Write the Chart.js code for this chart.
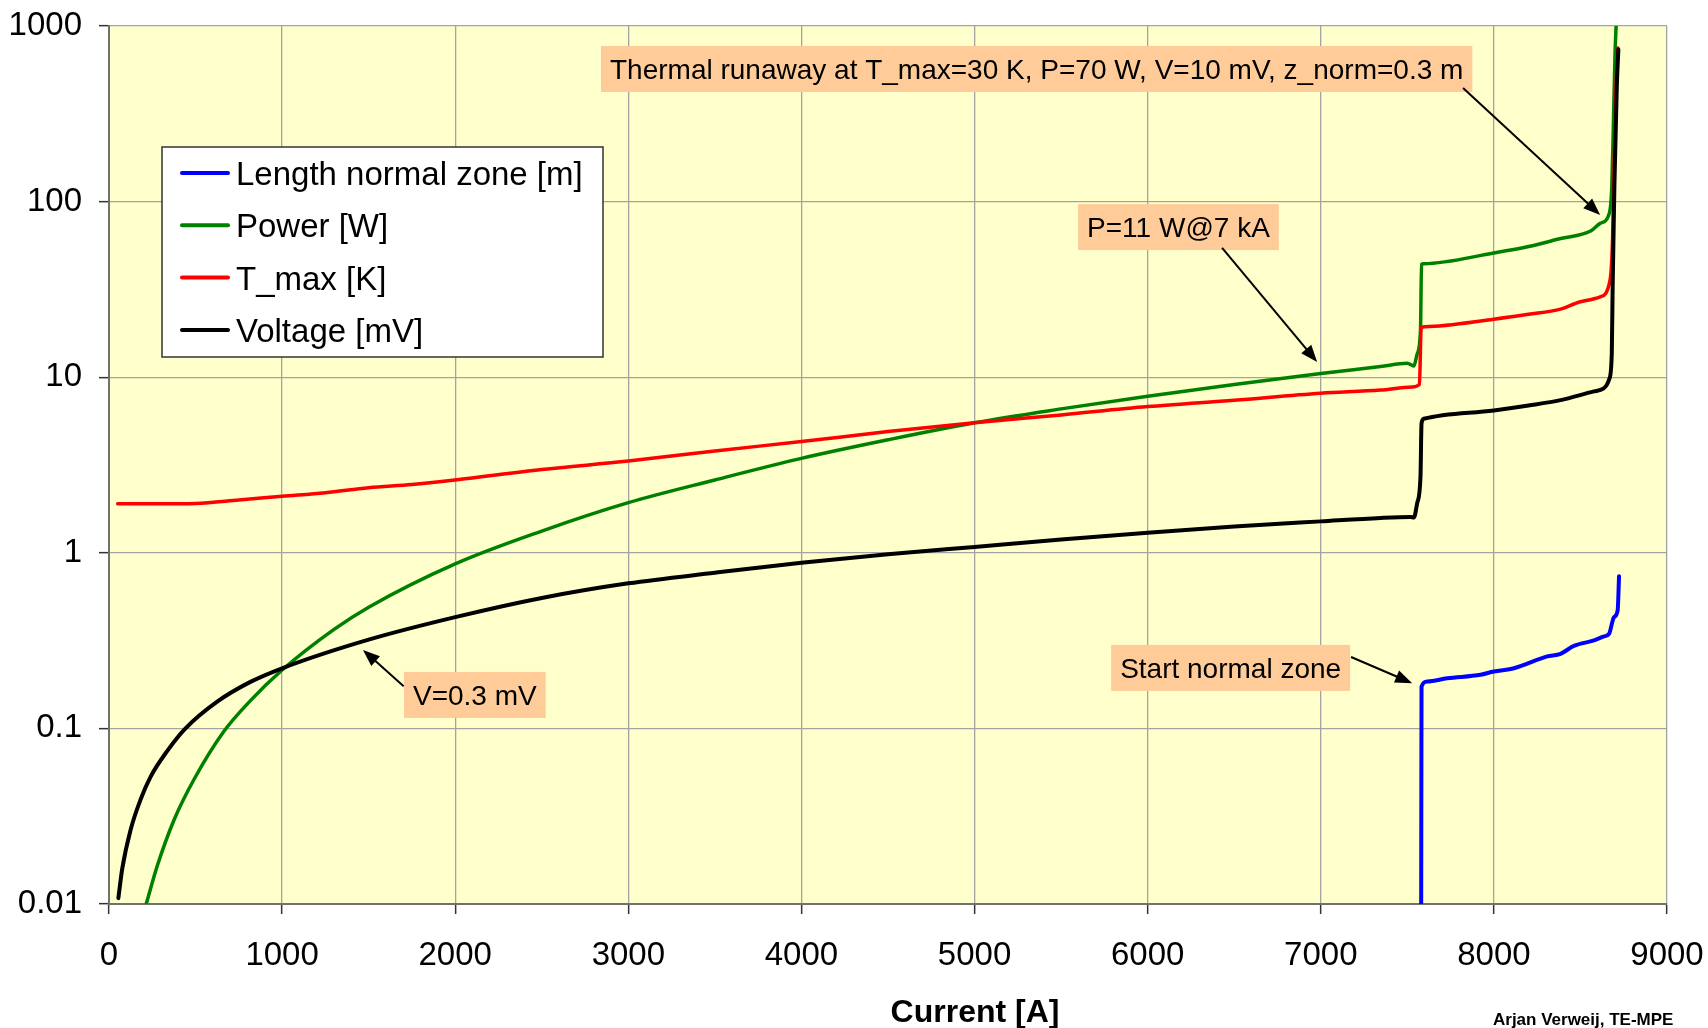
<!DOCTYPE html>
<html lang="en">
<head>
  <meta charset="UTF-8">
  <title>Quench scan</title>
  <script src="https://cdn.jsdelivr.net/npm/chart.js@4.4.1/dist/chart.umd.min.js"></script>
  <style>
    html, body { margin: 0; padding: 0; background: #fff; }
  </style>
</head>
<body>
  <canvas id="chart" width="1708" height="1028"></canvas>

  <script>
    // values (current in A)
    const lengthI = [7580, 7582, 7615, 7730, 7923, 8000, 8116, 8308, 8385, 8462, 8578, 8636, 8665, 8694, 8715, 8723]
    const lengthM = [0.01, 0.173, 0.185, 0.193, 0.202, 0.211, 0.22, 0.257, 0.266, 0.295, 0.317, 0.334, 0.345, 0.43, 0.47, 0.736]

    const powerI = [215, 279, 375, 490, 663, 817, 1000, 1298, 1500, 2000, 2500, 3000, 3500, 4000, 4500, 5000, 5500, 6000, 6500, 7000, 7345, 7499, 7538, 7557, 7576, 7582, 7595, 8000, 8200, 8385, 8559, 8614, 8667, 8681, 8691, 8700, 8706]
    const powerW = [0.01, 0.0165, 0.030, 0.051, 0.096, 0.144, 0.215, 0.365, 0.49, 0.865, 1.33, 1.93, 2.6, 3.45, 4.4, 5.5, 6.6, 7.8, 9.1, 10.5, 11.5, 12.0, 11.6, 13.6, 18.4, 43.9, 44.3, 51, 55.5, 61.6, 68, 75.2, 85.8, 121, 293, 705, 1000]

    const tmaxI = [50, 300, 500, 750, 1000, 1250, 1500, 1750, 2000, 2500, 3000, 3500, 4000, 4500, 5000, 5500, 6000, 6500, 7000, 7345, 7528, 7570, 7580, 7600, 8000, 8200, 8385, 8500, 8614, 8671, 8686, 8694, 8706, 8716]
    const tmaxK = [1.90, 1.90, 1.91, 2.0, 2.1, 2.2, 2.35, 2.45, 2.6, 2.98, 3.33, 3.8, 4.3, 4.9, 5.5, 6.1, 6.8, 7.4, 8.1, 8.45, 8.8, 9.1, 19.2, 19.4, 21.4, 22.8, 24.4, 26.9, 28.7, 35.7, 63, 151, 454, 750]

    const voltI = [54, 77, 125, 183, 240, 337, 442, 625, 817, 1000, 1500, 2000, 2500, 3000, 3500, 4000, 4500, 5000, 5500, 6000, 6500, 7000, 7345, 7518, 7538, 7557, 7576, 7582, 7595, 8000, 8200, 8385, 8578, 8632, 8667, 8681, 8686, 8696, 8710, 8719]
    const voltMV = [0.0108, 0.0160, 0.0265, 0.0395, 0.053, 0.0745, 0.1, 0.142, 0.184, 0.22, 0.32, 0.43, 0.553, 0.67, 0.77, 0.877, 0.98, 1.08, 1.19, 1.30, 1.41, 1.51, 1.58, 1.6, 1.59, 1.92, 2.72, 5.45, 5.8, 6.47, 6.9, 7.4, 8.3, 8.6, 9.8, 13.6, 32.7, 122, 454, 736]

    const yTicks = [0.01, 0.1, 1, 10, 100, 1000]
    const yTickLabels = ['0.01', '0.1', '1', '10', '100', '1000']

    // text boxes: left edge / middle of box and arrow, in data units
    const notes = [
      { text: 'Thermal runaway at T_max=30 K, P=70 W, V=10 mV, z_norm=0.3 m', at: [2842, 569], from: [7822, 443], to: [8614, 84] },
      { text: 'P=11 W@7 kA', at: [5598, 71.6], from: [6430, 54.5], to: [6979, 12.2] },
      { text: 'V=0.3 mV', at: [1704, 0.155], from: [1702, 0.174], to: [1467, 0.28] },
      { text: 'Start normal zone', at: [5789, 0.221], from: [7175, 0.255], to: [7528, 0.181] }
    ]

    const FONT = '"Liberation Sans", Arial, sans-serif'
    const pts = (xs, ys) => xs.map((x, i) => ({ x: x, y: ys[i] }))

    function arrow(ctx, x1, y1, x2, y2) {
      const ang = Math.atan2(y2 - y1, x2 - x1)
      const c = Math.cos(ang), s = Math.sin(ang)
      const len = 17, half = 6.5
      ctx.beginPath()
      ctx.moveTo(x1, y1)
      ctx.lineTo(x2 - len * 0.7 * c, y2 - len * 0.7 * s)
      ctx.stroke()
      ctx.beginPath()
      ctx.moveTo(x2, y2)
      ctx.lineTo(x2 - len * c + half * s, y2 - len * s - half * c)
      ctx.lineTo(x2 - len * c - half * s, y2 - len * s + half * c)
      ctx.closePath()
      ctx.fill()
    }

    const decor = {
      id: 'decor',
      beforeDraw(chart) {
        const { ctx, chartArea: a } = chart
        ctx.save()
        ctx.fillStyle = '#ffffcc'
        ctx.fillRect(a.left, a.top, a.right - a.left, a.bottom - a.top)
        ctx.restore()
      },
      afterDatasetsDraw(chart) {
        const { ctx, chartArea: a } = chart
        const xs = chart.scales.x, ys = chart.scales.y
        ctx.save()

        // legend box
        const lx = a.left + 53, ly = a.top + 121
        ctx.fillStyle = '#ffffff'
        ctx.fillRect(lx, ly, 441, 210)
        ctx.strokeStyle = '#333'
        ctx.lineWidth = 1.5
        ctx.strokeRect(lx, ly, 441, 210)
        ctx.font = '33px ' + FONT
        ctx.textBaseline = 'alphabetic'
        chart.data.datasets.forEach((ds, i) => {
          const y = ly + 26 + i * 52.3
          ctx.strokeStyle = ds.borderColor
          ctx.lineWidth = 4
          ctx.lineCap = 'round'
          ctx.beginPath()
          ctx.moveTo(lx + 20, y)
          ctx.lineTo(lx + 66, y)
          ctx.stroke()
          ctx.fillStyle = '#000'
          ctx.fillText(ds.label, lx + 74, y + 12)
        })

        // notes with arrows
        ctx.font = '28px ' + FONT
        ctx.lineCap = 'butt'
        for (const n of notes) {
          const bx = xs.getPixelForValue(n.at[0])
          const by = ys.getPixelForValue(n.at[1])
          const w = ctx.measureText(n.text).width + 18
          ctx.fillStyle = '#ffcc99'
          ctx.fillRect(bx, by - 23, w, 46)
          ctx.fillStyle = '#000'
          ctx.fillText(n.text, bx + 9, by + 10)
        }
        ctx.strokeStyle = '#000'
        ctx.fillStyle = '#000'
        ctx.lineWidth = 2
        for (const n of notes) {
          arrow(ctx,
            xs.getPixelForValue(n.from[0]), ys.getPixelForValue(n.from[1]),
            xs.getPixelForValue(n.to[0]), ys.getPixelForValue(n.to[1]))
        }
        ctx.restore()
      },
      afterDraw(chart) {
        const { ctx, chartArea: a } = chart
        ctx.save()
        ctx.fillStyle = '#000'
        ctx.textAlign = 'center'
        ctx.textBaseline = 'alphabetic'
        ctx.font = 'bold 32px ' + FONT
        ctx.fillText('Current [A]', (a.left + a.right) / 2 + 87, 1022)
        ctx.textAlign = 'left'
        ctx.font = 'bold 17px ' + FONT
        ctx.fillText('Arjan Verweij, TE-MPE', 1493, 1025)
        ctx.restore()
      }
    }

    const ctx = document.getElementById('chart').getContext('2d')
    const myChart = new Chart(ctx, {
      type: 'line',
      data: {
        datasets: [
          { label: 'Length normal zone [m]', data: pts(lengthI, lengthM), borderColor: '#0000ff', borderWidth: 4, order: 3 },
          { label: 'Power [W]', data: pts(powerI, powerW), borderColor: '#008000', borderWidth: 3.5, order: 2 },
          { label: 'T_max [K]', data: pts(tmaxI, tmaxK), borderColor: '#ff0000', borderWidth: 3.5, order: 1 },
          { label: 'Voltage [mV]', data: pts(voltI, voltMV), borderColor: '#000000', borderWidth: 4, order: 0 }
        ]
      },
      options: {
        responsive: false,
        animation: false,
        layout: { padding: { left: 0, right: 41, top: 26, bottom: 0 } },
        elements: {
          point: { radius: 0 },
          line: { cubicInterpolationMode: 'monotone', borderJoinStyle: 'round', borderCapStyle: 'round', fill: false }
        },
        plugins: {
          legend: { display: false },
          tooltip: { enabled: false }
        },
        scales: {
          x: {
            type: 'linear',
            min: 0,
            max: 9000,
            afterFit: s => { s.height = 124; s.paddingLeft = 0; s.paddingRight = 0 },
            ticks: {
              stepSize: 1000,
              padding: 22,
              color: '#000',
              font: { family: FONT, size: 33 },
              callback: v => String(v)
            },
            grid: { color: '#a3a3a3', lineWidth: 1.3, tickLength: 10, tickColor: '#333', tickWidth: 1.5 },
            border: { color: '#707070', width: 2 }
          },
          y: {
            type: 'logarithmic',
            min: 0.01,
            max: 1000,
            afterFit: s => { s.width = 109; s.paddingTop = 0; s.paddingBottom = 0 },
            afterBuildTicks: s => { s.ticks = yTicks.map(v => ({ value: v })) },
            ticks: {
              autoSkip: false,
              padding: 17,
              color: '#000',
              font: { family: FONT, size: 33 },
              callback: v => yTickLabels[yTicks.indexOf(v)]
            },
            grid: { color: '#a3a3a3', lineWidth: 1.3, tickLength: 10, tickColor: '#333', tickWidth: 1.5 },
            border: { color: '#707070', width: 2 }
          }
        }
      },
      plugins: [decor]
    });
  </script>
</body>
</html>
